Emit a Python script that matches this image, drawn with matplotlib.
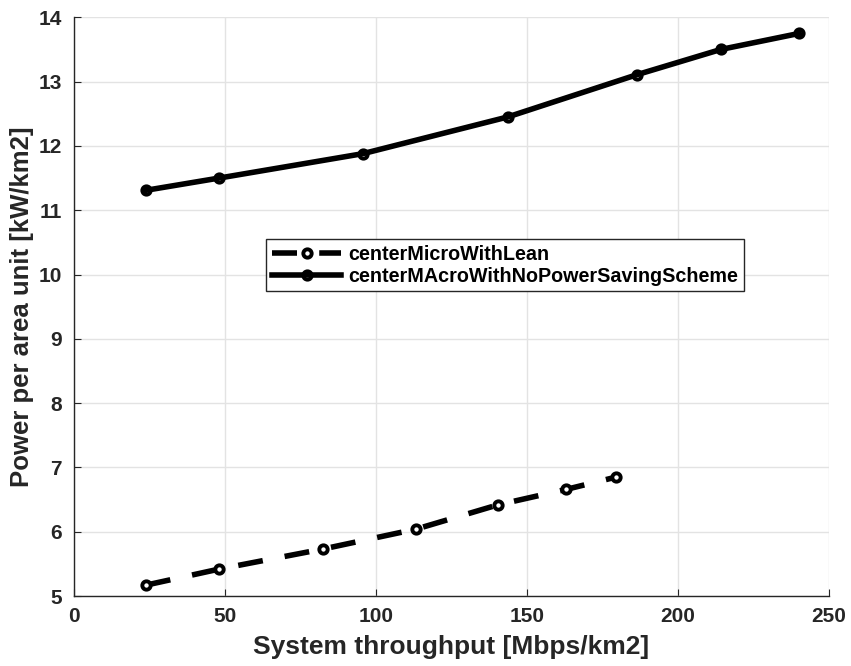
import numpy as np
import matplotlib
matplotlib.use('Agg')
import matplotlib.pyplot as plt

plt.rcParams['font.family'] = ['Liberation Sans', 'DejaVu Sans']
plt.rcParams['font.weight'] = 'bold'

# data
x_micro = [23.8, 48.1, 82.3, 113.2, 140.5, 163.1, 179.5]
y_micro = [5.17, 5.42, 5.73, 6.04, 6.42, 6.66, 6.85]
x_macro = [23.8, 48.0, 95.7, 143.6, 186.6, 214.2, 240.2]
y_macro = [11.31, 11.50, 11.88, 12.45, 13.11, 13.50, 13.75]
labels = ['centerMicroWithLean', 'centerMAcroWithNoPowerSavingScheme']
xticks = [0, 50, 100, 150, 200, 250]
yticks = [5, 6, 7, 8, 9, 10, 11, 12, 13, 14]

fig = plt.figure(figsize=(8.51, 6.66), dpi=100)
ax = fig.add_axes([0.087, 0.105, 0.887, 0.869])

ax.plot(x_micro, y_micro, color='k', lw=4, dashes=(4.5, 4.0),
        marker='o', ms=6, mew=2.8, mfc='white', mec='k', label=labels[0])
ax.plot(x_macro, y_macro, color='k', lw=4,
        marker='o', ms=6, mew=2.8, mfc='none', mec='k', label=labels[1])

ax.set_xlim(0, 250)
ax.set_ylim(5, 14)
ax.set_xticks(xticks)
ax.set_yticks(yticks)
ax.grid(True, color='#e3e3e3', lw=1)
ax.set_axisbelow(True)
for s in ['top', 'right']:
    ax.spines[s].set_visible(False)
for s in ['left', 'bottom']:
    ax.spines[s].set_color('#262626')
    ax.spines[s].set_linewidth(1)
ax.tick_params(direction='in', length=5, colors='#262626', labelsize=15)
ax.tick_params(axis='y', pad=9)
ax.tick_params(axis='x', pad=8)
for t in ax.get_xticklabels() + ax.get_yticklabels():
    t.set_fontweight('bold')

ax.set_xlabel('System throughput [Mbps/km2]', fontsize=19, fontweight='bold', color='#262626', labelpad=6)
ax.set_ylabel('Power per area unit [kW/km2]', fontsize=18.5, fontweight='bold', color='#262626', labelpad=3)

leg = ax.legend(loc='center', bbox_to_anchor=(0.571, 0.572), fontsize=14.2,
                handlelength=3.5, handletextpad=0.35, borderpad=0.3, labelspacing=0.15,
                borderaxespad=0, fancybox=False, framealpha=1, edgecolor='#262626')
leg.get_frame().set_linewidth(1)
for t in leg.get_texts():
    t.set_fontweight('bold')

fig.savefig('out.png', dpi=100)
